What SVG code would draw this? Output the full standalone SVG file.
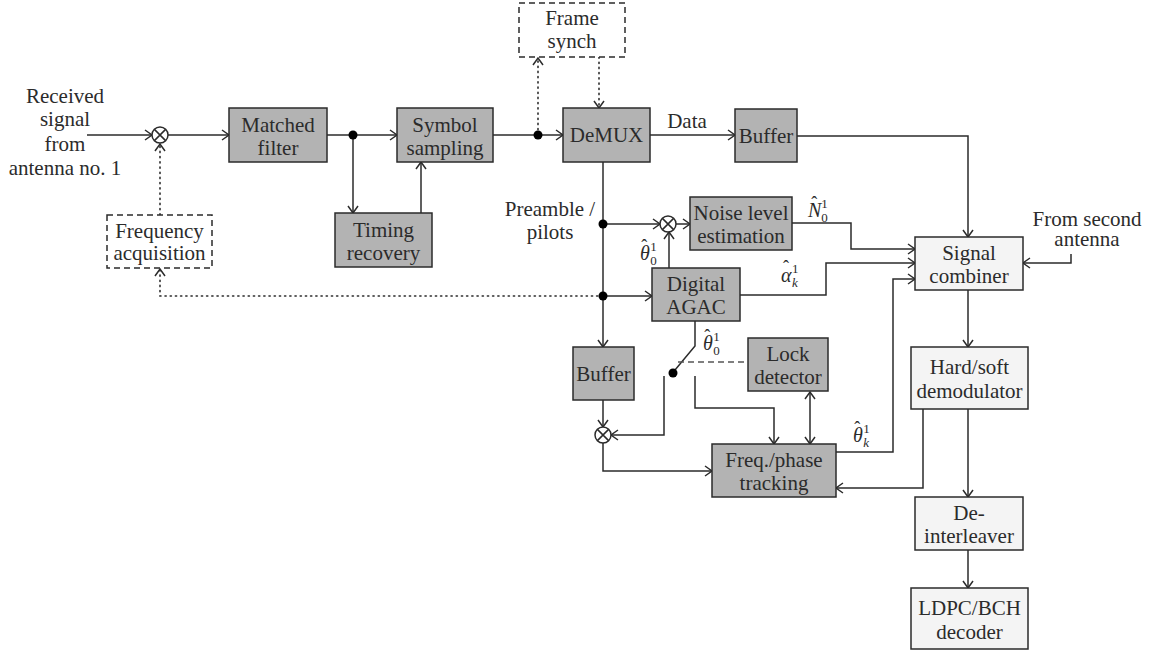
<svg xmlns="http://www.w3.org/2000/svg" width="1149" height="653" viewBox="0 0 1149 653">
<style>
text{font-family:"Liberation Serif","DejaVu Serif",serif;font-size:21px;fill:#2b2b2b;text-anchor:middle}
.m{font-style:italic;text-anchor:start;font-size:20px}
.h{font-size:18px;font-style:normal}
.s{font-size:13px;font-style:normal}
.si{font-size:13px;font-style:italic}
.b{fill:#b3b3b3;stroke:#2b2b2b;stroke-width:1.5}
.l{fill:#f4f4f4;stroke:#2b2b2b;stroke-width:1.5}
.d{fill:#fff;stroke:#2b2b2b;stroke-width:1.5;stroke-dasharray:6 4}
.c{fill:none;stroke:#2b2b2b;stroke-width:1.5}
.a{marker-end:url(#ar)}
.dot{fill:none;stroke:#2b2b2b;stroke-width:1.6;stroke-dasharray:1.2 4;stroke-linecap:round}
.dash{fill:none;stroke:#555;stroke-width:1.5;stroke-dasharray:6 4}
.j{fill:#000}
.mx{fill:#fff;stroke:#2b2b2b;stroke-width:1.5}
</style>
<defs>
<marker id="ar" markerUnits="userSpaceOnUse" markerWidth="14" markerHeight="14" viewBox="-8 -7 10 14" refX="0" refY="0" orient="auto-start-reverse">
<path d="M-7,-5 L0,0 L-7,5" fill="none" stroke="#2b2b2b" stroke-width="1.5"/>
</marker>
<g id="mix"><circle r="8" class="mx"/><path d="M-5.6,-5.6 L5.6,5.6 M-5.6,5.6 L5.6,-5.6" class="c"/></g>
</defs>

<g id="connectors">
<path class="c a" d="M87,135 H152"/>
<path class="c a" d="M168,135 H229"/>
<path class="dot a" d="M160,215 V144"/>
<path class="c a" d="M327,135 H397"/>
<path class="c a" d="M353,135 V213"/>
<path class="c a" d="M421,213 V162"/>
<path class="c a" d="M493,135 H563"/>
<path class="dot a" d="M538,135 V58"/>
<path class="dot a" d="M599,57 V108"/>
<path class="c a" d="M650,135 H735"/>
<path class="c a" d="M797,136 H968 V237"/>
<path class="c a" d="M603,162 V347"/>
<path class="c a" d="M603,224 H660"/>
<path class="c a" d="M676,224 H690"/>
<path class="c a" d="M669,268 V232"/>
<path class="c a" d="M603,296 H652"/>
<path class="dot a" d="M603,296 H160 V269"/>
<path class="c a" d="M792,223 H851 V249 H915"/>
<path class="c a" d="M740,295 H826 V263 H915"/>
<path class="c a" d="M836,452 H893 V279 H915"/>
<path class="c a" d="M1071,254 V263 H1023"/>
<path class="c a" d="M968,290 V347"/>
<path class="c a" d="M968,409 V497"/>
<path class="c a" d="M923,409 V488 H836"/>
<path class="c a" d="M968,550 V588"/>
<path class="c a" d="M603,400 V427"/>
<path class="c a" d="M603,443 V471 H712"/>
<path class="c" d="M695,321 V346 L675,370"/>
<path class="dash" d="M678,362 H748"/>
<path class="c a" d="M664,376 V435 H611"/>
<path class="c a" d="M695,376 V408 H774 V444"/>
<path class="c a" d="M810,392 V444" style="marker-start:url(#ar)"/>
<circle class="j" cx="353" cy="135" r="4.5"/>
<circle class="j" cx="538" cy="135" r="4.5"/>
<circle class="j" cx="603" cy="224" r="4.5"/>
<circle class="j" cx="603" cy="296" r="4.5"/>
<circle class="j" cx="673" cy="373" r="4.5"/>
<use href="#mix" x="160" y="135"/>
<use href="#mix" x="668" y="224"/>
<use href="#mix" x="603" y="435"/>
</g>

<g id="labels">
<text x="65" y="103">Received</text>
<text x="65" y="126">signal</text>
<text x="65" y="151">from</text>
<text x="65" y="175">antenna no. 1</text>
<text x="687" y="128">Data</text>
<text x="550" y="216">Preamble /</text>
<text x="550" y="239">pilots</text>
<text x="1087" y="226">From second</text>
<text x="1087" y="246">antenna</text>
<text class="m" x="640" y="260">θ<tspan class="h" dx="-8.5" dy="-8">ˆ</tspan><tspan class="s" dx="3" dy="-1">1</tspan><tspan class="s" dx="-6.5" dy="14">0</tspan></text>
<text class="m" x="808" y="217">N<tspan class="h" dx="-10" dy="-8">ˆ</tspan><tspan class="s" dx="4" dy="-1">1</tspan><tspan class="s" dx="-6.5" dy="14">0</tspan></text>
<text class="m" x="781" y="282">α<tspan class="h" dx="-8.5" dy="-9">ˆ</tspan><tspan class="s" dx="3" dy="0">1</tspan><tspan class="si" dx="-6.5" dy="14">k</tspan></text>
<text class="m" x="703" y="350">θ<tspan class="h" dx="-8.5" dy="-8">ˆ</tspan><tspan class="s" dx="3" dy="-1">1</tspan><tspan class="s" dx="-6.5" dy="14">0</tspan></text>
<text class="m" x="853" y="442">θ<tspan class="h" dx="-8.5" dy="-8">ˆ</tspan><tspan class="s" dx="3" dy="-1">1</tspan><tspan class="si" dx="-6.5" dy="14">k</tspan></text>
</g>

<g id="matched-filter"><rect class="b" x="229" y="108" width="98" height="54"/><text x="278" y="132">Matched</text><text x="278" y="155">filter</text></g>
<g id="symbol-sampling"><rect class="b" x="397" y="108" width="96" height="54"/><text x="445" y="132">Symbol</text><text x="445" y="155">sampling</text></g>
<g id="timing-recovery"><rect class="b" x="335" y="213" width="97" height="54"/><text x="383.5" y="237">Timing</text><text x="383.5" y="260">recovery</text></g>
<g id="demux"><rect class="b" x="563" y="108" width="87" height="54"/><text x="606.5" y="142">DeMUX</text></g>
<g id="frame-synch"><rect class="d" x="519" y="3" width="106" height="54"/><text x="572" y="25">Frame</text><text x="572" y="48">synch</text></g>
<g id="frequency-acquisition"><rect class="d" x="107" y="215" width="105" height="53"/><text x="159.5" y="238">Frequency</text><text x="159.5" y="260">acquisition</text></g>
<g id="buffer-data"><rect class="b" x="735" y="109" width="62" height="53"/><text x="766" y="143">Buffer</text></g>
<g id="noise-level"><rect class="b" x="690" y="197" width="102" height="53"/><text x="741" y="220">Noise level</text><text x="741" y="243">estimation</text></g>
<g id="digital-agac"><rect class="b" x="652" y="268" width="88" height="53"/><text x="696" y="291">Digital</text><text x="696" y="314">AGAC</text></g>
<g id="buffer-pilots"><rect class="b" x="573" y="347" width="61" height="53"/><text x="603.5" y="381">Buffer</text></g>
<g id="lock-detector"><rect class="b" x="748" y="338" width="80" height="53"/><text x="788" y="361">Lock</text><text x="788" y="384">detector</text></g>
<g id="freq-phase-tracking"><rect class="b" x="712" y="444" width="124" height="53"/><text x="774" y="467">Freq./phase</text><text x="774" y="490">tracking</text></g>
<g id="signal-combiner"><rect class="l" x="915" y="237" width="108" height="53"/><text x="969" y="260">Signal</text><text x="969" y="283">combiner</text></g>
<g id="demodulator"><rect class="l" x="911" y="347" width="117" height="62"/><text x="969.5" y="374">Hard/soft</text><text x="969.5" y="398">demodulator</text></g>
<g id="deinterleaver"><rect class="l" x="915" y="497" width="108" height="53"/><text x="969" y="520">De-</text><text x="969" y="543">interleaver</text></g>
<g id="decoder"><rect class="l" x="911" y="588" width="117" height="61"/><text x="969.5" y="615">LDPC/BCH</text><text x="969.5" y="639">decoder</text></g>
</svg>
